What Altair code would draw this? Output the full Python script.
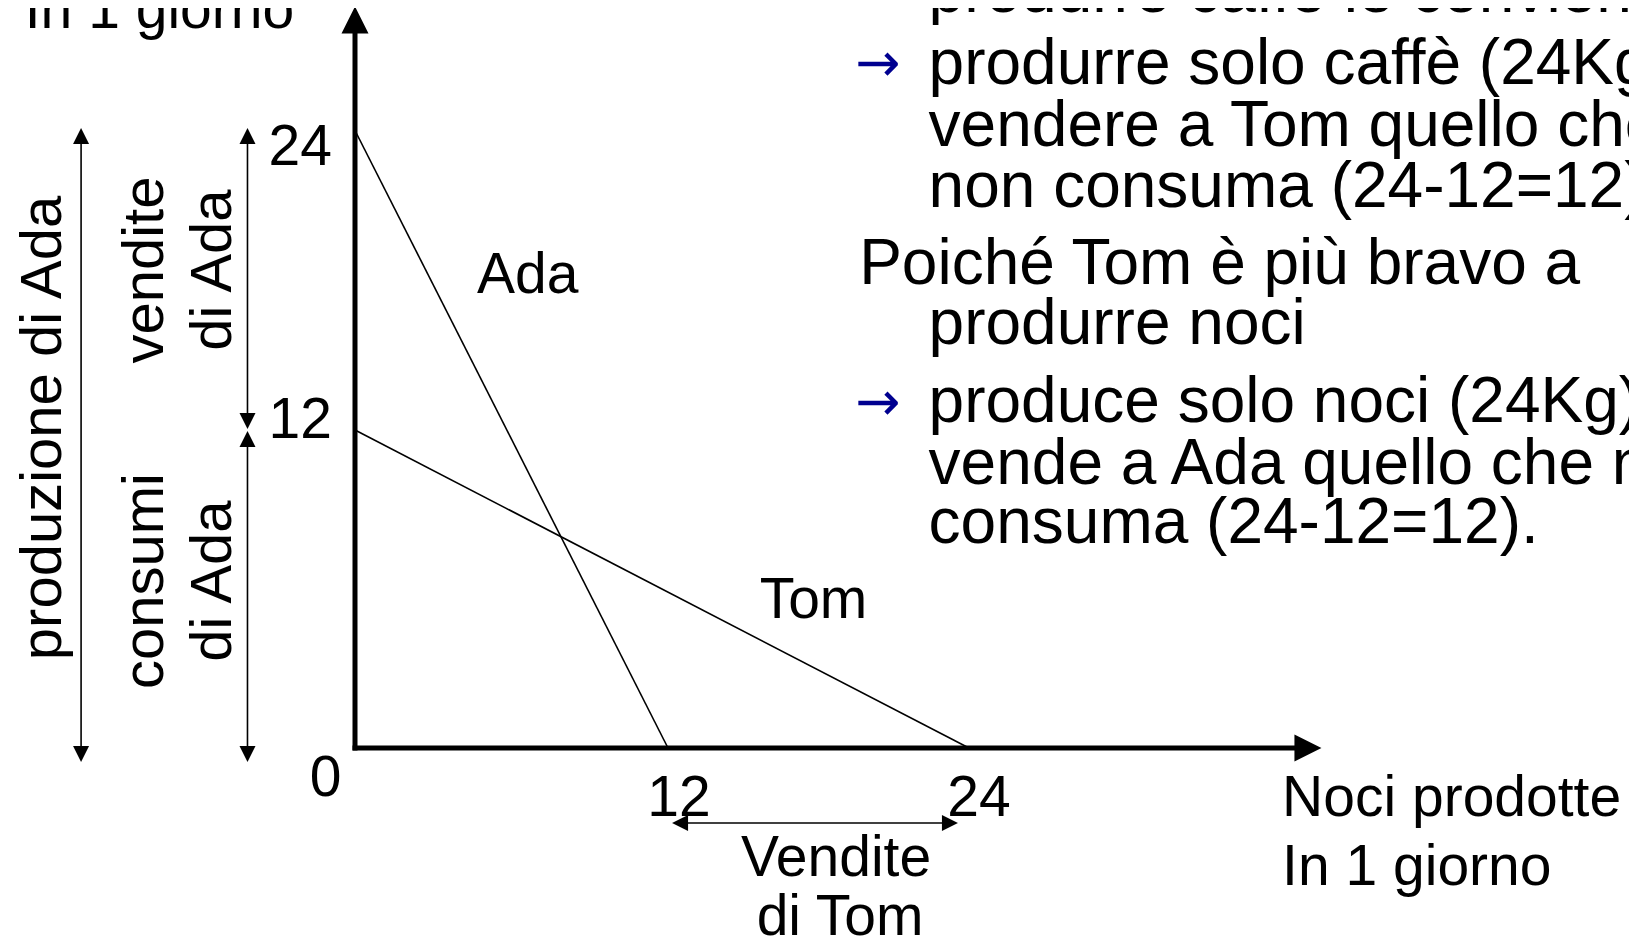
import altair as alt
import pandas as pd

# ---------------- data ----------------
# production possibility lines (x = noci, y = caffè)
ppf_who = ["Ada", "Ada", "Tom", "Tom"]
ppf_x = [0, 12, 0, 24]
ppf_y = [24, 0, 12, 0]
ppf_order = [0, 1, 0, 1]

# scale (domain in chart units, range in pixels)
x_dom = [-13.555, 0, 12, 24, 49.78]
x_rng = [0, 347, 660, 961, 1621]
y_dom = [-7.32, 0, 12, 24, 28.9]
y_rng = [928, 740, 422, 122.5, 0]

# thick axis lines
axis_x = [0, 0]
axis_y = [0, 0]
axis_x2 = [0, 36.73]
axis_y2 = [27.9, 0]

# thin annotation arrows (shafts)
ann_x = [-10.70, -4.2, -4.2, 12.48]
ann_y = [-0.233, 12.36, -0.233, -2.92]
ann_x2 = [-10.70, -4.2, -4.2, 23.24]
ann_y2 = [23.78, 23.78, 11.66, -2.92]

# arrow heads
UP = "M0,-1L1,1L-1,1Z"
DOWN = "M0,1L1,-1L-1,-1Z"
RIGHT = "M1,0L-1,-1L-1,1Z"
LEFT = "M-1,0L1,-1L1,1Z"
head_shape = [UP, RIGHT, UP, DOWN, UP, DOWN, UP, DOWN, LEFT, RIGHT]
head_x = [0, 37.24, -10.70, -10.70, -4.2, -4.2, -4.2, -4.2, 12.48, 23.24]
head_y = [28.42, 0, 23.78, -0.233, 23.78, 12.36, 11.66, -0.233, -2.92, -2.92]
head_size = [729, 729, 256, 256, 256, 256, 256, 256, 256, 256]

# text labels: left-aligned
tl_text = ["In 1 giorno", "Noci prodotte", "In 1 giorno"]
tl_x = [-12.9, 36.23, 36.23]
tl_y = [28.1, -2.65, -5.33]

# center-aligned labels
tc_text = ["Ada", "Tom", "12", "24", "Vendite", "di Tom"]
tc_x = [6.62, 17.8, 12.44, 24.39, 18.70, 18.86]
tc_y = [17.49, 4.91, -2.65, -2.65, -4.98, -7.28]

# y tick labels (right aligned) and zero
ty_text = ["24", "12"]
ty_x = [-0.9, -0.9]
ty_y = [22.62, 11.68]
zero_text = ["0"]
zero_x = [-1.15]
zero_y = [-1.85]

# rotated labels
tr_text = ["produzione di Ada", "vendite", "di Ada", "consumi", "di Ada"]
tr_x = [-12.15, -8.16, -5.51, -8.16, -5.51]
tr_y = [12.08, 18.41, 18.41, 6.3, 6.3]

# right-hand paragraphs
para_text = [
    "produrre caffè le conviene",
    "produrre solo caffè (24Kg) e",
    "vendere a Tom quello che",
    "non consuma (24-12=12).",
    "Poiché Tom è più bravo a",
    "produrre noci",
    "produce solo noci (24Kg) e",
    "vende a Ada quello che non",
    "consuma (24-12=12).",
]
para_x = [22.39, 22.39, 22.39, 22.39, 19.62, 22.39, 22.39, 22.39, 22.39]
para_y = [28.74, 25.88, 23.38, 20.93, 17.85, 15.45, 12.32, 9.96, 7.74]

bullet_text = ["→", "→"]
bullet_x = [20.37, 20.37]
bullet_y = [26.64, 13.06]

# ---------------- chart ----------------
FONT = "Liberation Sans"
xs = alt.Scale(domain=x_dom, range=x_rng, zero=False, nice=False)
ys = alt.Scale(domain=y_dom, range=y_rng, zero=False, nice=False)


def X(f="x"):
    return alt.X(f"{f}:Q", scale=xs, axis=None)


def Y(f="y"):
    return alt.Y(f"{f}:Q", scale=ys, axis=None)


ppf = pd.DataFrame({"who": ppf_who, "x": ppf_x, "y": ppf_y, "o": ppf_order})
lines = alt.Chart(ppf).mark_line(color="black", strokeWidth=1.6).encode(
    x=X(), y=Y(), detail="who:N", order="o:Q"
)

axes_df = pd.DataFrame({"x": axis_x, "y": axis_y, "x2": axis_x2, "y2": axis_y2})
axes = alt.Chart(axes_df).mark_rule(color="black", strokeWidth=5, strokeCap="square").encode(
    x=X(), y=Y(), x2="x2:Q", y2="y2:Q"
)

ann_df = pd.DataFrame({"x": ann_x, "y": ann_y, "x2": ann_x2, "y2": ann_y2})
ann = alt.Chart(ann_df).mark_rule(color="black", strokeWidth=1.6).encode(
    x=X(), y=Y(), x2="x2:Q", y2="y2:Q"
)

head_df = pd.DataFrame({"x": head_x, "y": head_y, "shape": head_shape, "size": head_size})
heads = alt.Chart(head_df).mark_point(filled=True, opacity=1, color="black", strokeWidth=0).encode(
    x=X(), y=Y(),
    shape=alt.Shape("shape:N", scale=None),
    size=alt.Size("size:Q", scale=None),
)


def text_layer(texts, xv, yv, size, align, baseline, angle=0, color="black", font=FONT):
    df = pd.DataFrame({"t": texts, "x": xv, "y": yv})
    return alt.Chart(df).mark_text(
        font=font, fontSize=size, align=align, baseline=baseline, angle=angle, color=color
    ).encode(x=X(), y=Y(), text="t:N")


t_left = text_layer(tl_text, tl_x, tl_y, 57, "left", "alphabetic")
t_center = text_layer(tc_text, tc_x, tc_y, 57, "center", "alphabetic")
t_ytick = text_layer(ty_text, ty_x, ty_y, 57, "right", "alphabetic")
t_zero = text_layer(zero_text, zero_x, zero_y, 57, "center", "alphabetic")
t_rot = text_layer(tr_text, tr_x, tr_y, 58, "center", "middle", angle=270)
t_para = text_layer(para_text, para_x, para_y, 64, "left", "alphabetic")
t_bullet = text_layer(bullet_text, bullet_x, bullet_y, 54, "center", "middle",
                      color="#000090", font="DejaVu Sans")

chart = alt.layer(
    lines, axes, ann, heads, t_left, t_center, t_ytick, t_zero, t_rot, t_para, t_bullet
).properties(
    width=1621, height=928, autosize="none", padding=0, background="white"
).configure_view(stroke=None)

chart.save("out.html", embed_options={"renderer": "svg", "actions": False})
